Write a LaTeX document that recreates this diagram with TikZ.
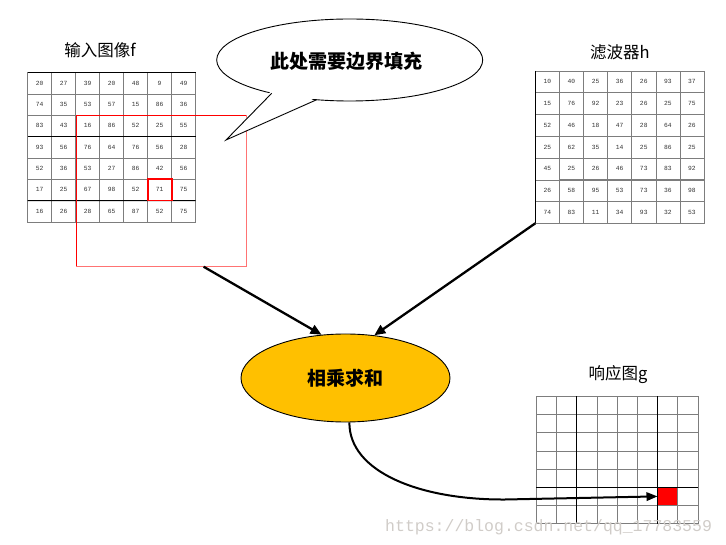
\documentclass[tikz,border=0pt]{standalone}
\usepackage{fontspec}
\usetikzlibrary{matrix,arrows.meta,calc,shapes.geometric}
\newfontfamily\cjk{Noto Sans CJK SC}
\newfontfamily\monof{Liberation Mono}
\definecolor{gold}{RGB}{255,192,0}
\definecolor{gridgray}{RGB}{125,125,125}
\definecolor{wmgray}{RGB}{208,204,200}
\begin{document}
\begin{tikzpicture}[x=1pt,y=-1pt,
  cellbase/.style={draw=gridgray, line width=0.6pt, inner sep=0pt, outer sep=0pt,
    font=\monof\fontsize{6.3}{7}\selectfont, text=black!80},
  cellf/.style={cellbase, minimum width=24pt, minimum height=21.3pt},
  cellh/.style={cellbase, minimum width=24.1pt, minimum height=21.75pt},
  cellg/.style={cellbase, minimum width=20.2pt, minimum height=18.2pt},
  mat/.style={matrix of nodes, anchor=north west, inner sep=0pt, outer sep=0pt,
    column sep=-0.6pt, row sep=-0.6pt},
  title/.style={font=\cjk\fontsize{16.5}{18}\selectfont, inner sep=0pt},
  bigtxt/.style={font=\cjk\bfseries\fontsize{19}{21}\selectfont},
  darkline/.style={black, line width=1pt},
  arr/.style={line width=2.3pt, -{Triangle[length=11pt,width=9.5pt]}},
  curvearr/.style={line width=2pt, -{Triangle[length=11pt,width=8.5pt]}}
]
\useasboundingbox (0,0) rectangle (726,545);

% ---------- input image f ----------
\node[title] (tf) at (100,50) {输入图像f};
\matrix (f) [mat, nodes={cellf}] at (27.3,72.3) {
20 & 27 & 39 & 20 & 48 & 9  & 49 \\
74 & 35 & 53 & 57 & 15 & 86 & 36 \\
83 & 43 & 16 & 86 & 52 & 25 & 55 \\
93 & 56 & 76 & 64 & 76 & 56 & 28 \\
52 & 36 & 53 & 27 & 86 & 42 & 56 \\
17 & 25 & 67 & 98 & 52 & 71 & 75 \\
16 & 26 & 28 & 65 & 87 & 52 & 75 \\
};
\draw[darkline] (f-1-1.north west) -- (f-1-7.north east);
\draw[darkline] (f-4-1.north west) -- (f-4-7.north east);
\draw[darkline] (f-7-1.north west) -- (f-7-7.north east);
\draw[red, line width=1.8pt] (f-6-6.north west) rectangle (f-6-6.south east);

% padding region
\node[minimum width=169.7pt, minimum height=151.4pt, inner sep=0pt, outer sep=0pt,
  anchor=north west] (pad) at (76.3,115.3) {};
\draw[red, line width=0.9pt] (pad.south west) -- (pad.north west) -- (pad.north east);
\draw[red!55, line width=0.9pt] (pad.north east) -- (pad.south east) -- (pad.south west);
\coordinate (padout) at ($(pad.south west)!0.75!(pad.south east)$);

% ---------- callout ----------
\node[ellipse, draw, fill=white, line width=0.9pt, minimum width=266pt,
  minimum height=82pt, inner sep=0pt] (call) at (349.7,60) {};
\coordinate (ta) at (271.7,93.3);
\coordinate (tb) at (316.7,99.7);
\coordinate (tip) at (226,140);
\fill[white] (271.5,90.8) -- (tip) -- (317,97.2) -- cycle;
\draw[line width=0.9pt, line join=miter] (ta) -- (tip) -- (tb);
\node[bigtxt] (calltxt) at (346.7,61) {此处需要边界填充};

% ---------- filter h ----------
\node[title] (th) at (620,52) {滤波器h};
\matrix (h) [mat, nodes={cellh}] at (535,70.7) {
10 & 40 & 25 & 36 & 26 & 93 & 37 \\
15 & 76 & 92 & 23 & 26 & 25 & 75 \\
52 & 46 & 18 & 47 & 28 & 64 & 26 \\
25 & 62 & 35 & 14 & 25 & 86 & 25 \\
45 & 25 & 26 & 46 & 73 & 83 & 92 \\
26 & 58 & 95 & 53 & 73 & 36 & 98 \\
74 & 83 & 11 & 34 & 93 & 32 & 53 \\
};
\draw[black, line width=1.2pt] (h-1-1.north west) -- (h-7-1.south west);

% ---------- multiply-sum ----------
\node[ellipse, draw, fill=gold, line width=0.9pt, minimum width=209pt,
  minimum height=88pt, inner sep=0pt] (mul) at (345.5,378) {};
\node[bigtxt] (multxt) at (345.5,378) {相乘求和};

\draw[arr] (padout) -- (mul.119);
\draw[arr] (h-7-1.south west) -- (mul.56);

% ---------- response g ----------
\node[title] (tg) at (618,375) {响应图g};
\matrix (g) [mat, nodes={cellg}, nodes in empty cells] at (536,396) {
 & & & & & & & \\
 & & & & & & & \\
 & & & & & & & \\
 & & & & & & & \\
 & & & & & & & \\
 & & & & & & |[fill=red, draw=red!55!black]| & \\
 & & & & & & & \\
};
\draw[darkline] (g-1-3.north west) -- (g-7-3.south west);
\draw[darkline] (g-1-7.north west) -- (g-7-7.south west);
\draw[darkline] (g-6-1.north west) -- (g-6-8.north east);

\draw[curvearr] (mul.275) .. controls (349,472) and (420,500) .. (505,499.5) -- (g-6-7.west);

% ---------- watermark ----------
\node[anchor=base west, inner sep=0pt, text=wmgray,
  font=\monof\fontsize{16.5}{18}\selectfont] (wm) at (385,531) {https://blog.csdn.net/qq\_17783559};
\end{tikzpicture}
\end{document}
